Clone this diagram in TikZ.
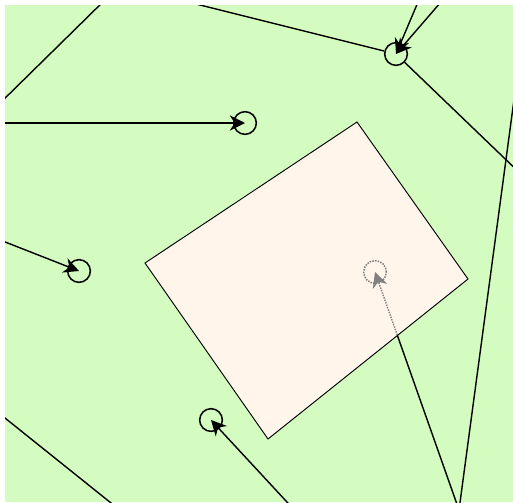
\documentclass[tikz,border=0pt]{standalone}
\usetikzlibrary{arrows.meta}
\definecolor{wiese}{RGB}{212,252,192}
\definecolor{zone}{RGB}{255,245,235}
\tikzset{
    station/.style={circle,draw,line width=1.3pt,minimum size=0.68cm,inner sep=0pt},
    link/.style={line width=1.2pt},
    pfeil/.style={link,-{Stealth[length=13pt,width=13pt]}}
}

\begin{document}
\begin{tikzpicture}[x=0.03cm,y=-0.03cm]
    \useasboundingbox (0,0) rectangle (513,502);
    \fill[wiese] (5,5) rectangle (513,502); % Hintergrund
    \begin{scope}
    \clip (5,5) rectangle (513,502);
    % Stationen:
    \node[station] (n1) at (396,54) {};
    \node[station] (n2) at (245,123) {};
    \node[station] (n3) at (79,271) {};
    \node[station] (n4) at (211,420) {};
    \coordinate (n5) at (375,272); % liegt unter der Zone
    % Ecken der Zone:
    \coordinate (z1) at (357,122);
    \coordinate (z2) at (468,279);
    \coordinate (z3) at (268,439);
    \coordinate (z4) at (145,263);
    % Punkte ausserhalb:
    \coordinate (o1) at (160,-5);
    \coordinate (o2) at (421,-5);
    \coordinate (o3) at (447,-5);
    \coordinate (o4) at (525,178);
    \coordinate (o5) at (522,40);
    \coordinate (o6) at (-5,123);
    \coordinate (o7) at (-5,238);
    \coordinate (o8) at (299,515);
    \coordinate (o9) at (-5,410);
    \coordinate (o10) at (126,515);
    \coordinate (o11) at (-5,108);
    \coordinate (o12) at (110,-5);
    \coordinate (vb) at (459,510);
    % Verbindungen:
    \draw[link] (o11) -- (o12);
    \draw[link] (n1) -- (o1);
    \draw[link] (n1) -- (o4);
    \draw[link] (o5) -- (vb);
    \draw[link] (o9) -- (o10);
    \draw[pfeil] (o2) -- (n1.center);
    \draw[pfeil] (o3) -- (n1.center);
    \draw[pfeil] (o6) -- (n2.center);
    \draw[pfeil] (o7) -- (n3.center);
    \draw[pfeil] (o8) -- (n4.center);
    \draw[link] (vb) -- (n5);
    % Zone:
    \fill[zone] (z1) -- (z2) -- (z3) -- (z4) -- cycle;
    \begin{scope}
        \clip (z1) -- (z2) -- (z3) -- (z4) -- cycle;
        \node[station,draw=gray,densely dotted] (s5) at (n5) {};
        \draw[pfeil,gray,densely dotted] (vb) -- (s5.center);
    \end{scope}
    \draw[line width=0.8pt] (z1) -- (z2) -- (z3) -- (z4) -- cycle;
    \end{scope}
\end{tikzpicture}
\end{document}
